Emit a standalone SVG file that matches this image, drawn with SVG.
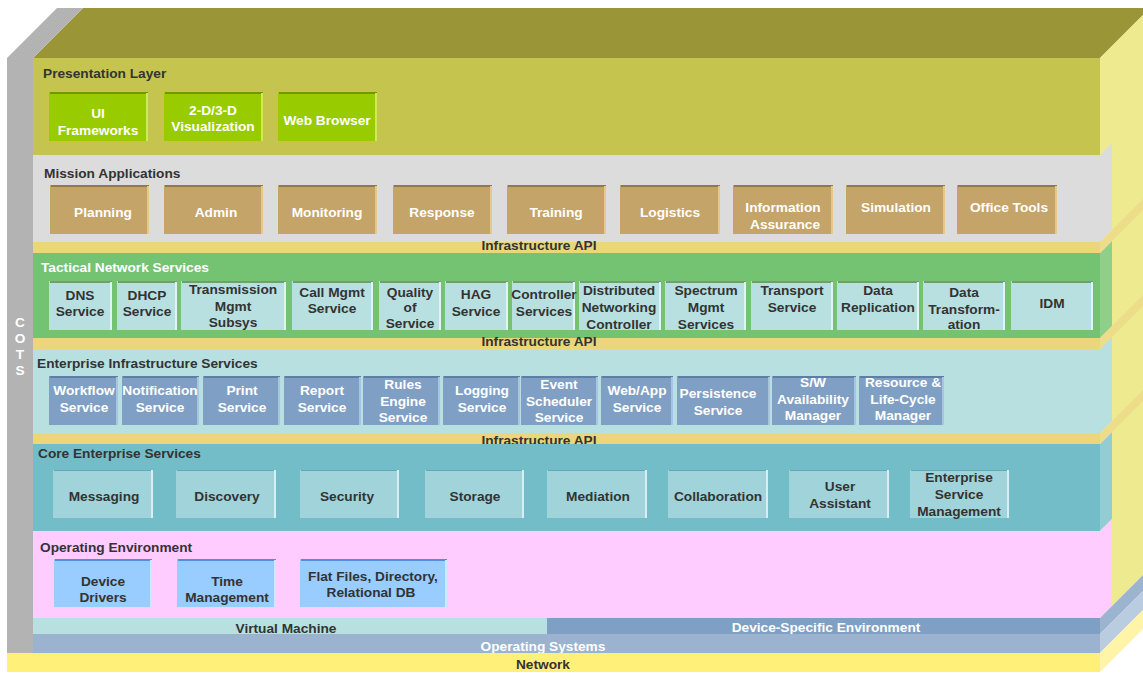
<svg xmlns="http://www.w3.org/2000/svg" width="1143" height="673" viewBox="0 0 1143 673">
<style>
.t{font-family:"Liberation Sans",Arial,Helvetica,sans-serif;font-weight:bold;font-size:13.7px}
.dk{fill:#333333}
.wh{fill:#ffffff}
.c{text-anchor:middle}
.g{fill:#99CC00}
.gt{stroke:#6E9A00;stroke-width:2}
.gr{stroke:#CCEB55;stroke-width:2}
.tn{fill:#C4A468}
.tnt{stroke:#8E7A4C;stroke-width:2}
.tnr{stroke:#E6C88A;stroke-width:2}
.cy{fill:#B8E0E0}
.cyt{stroke:#6E9E74;stroke-width:2}
.cyr{stroke:#E2F3F3;stroke-width:2}
.sb{fill:#7F9FC4}
.sbt{stroke:#5E7EA6;stroke-width:2}
.sbr{stroke:#A9C3E0;stroke-width:2}
.tl{fill:#A0D3DA}
.tlt{stroke:#5FAAB4;stroke-width:1}
.tlr{stroke:#D6EFF2;stroke-width:2}
.lb{fill:#99CCFF}
.lbt{stroke:#4F8FE0;stroke-width:2}
.lbr{stroke:#CFE6FF;stroke-width:2}
</style>

<!-- 3D frame -->
<g id="frame">
  <polygon points="33,58 83,8 1150,8 1100,58" fill="#9A9638"/>
  <polygon points="1100,58 1150,8 1150,568 1100,618" fill="#EDEA8F"/>
  <polygon points="1100,155 1112,143 1112,230 1100,242" fill="#DCDCDC"/>
  <polygon points="1100,253 1112,241 1112,326 1100,338" fill="#8FCF8A"/>
  <polygon points="1100,349 1112,337 1112,421 1100,433" fill="#B8E0E0"/>
  <polygon points="1100,444 1112,432 1112,519 1100,531" fill="#93CDD3"/>
  <polygon points="1100,531 1112,519 1112,606 1100,618" fill="#FFCCFF"/>
  <polygon points="1100,242 1150,192 1150,203 1100,253" fill="#EDDC8A"/>
  <polygon points="1100,338 1150,288 1150,299 1100,349" fill="#EDDC8A"/>
  <polygon points="1100,433 1150,383 1150,394 1100,444" fill="#EDDC8A"/>
  <polygon points="1100,618 1150,568 1150,584 1100,634" fill="#9CB4D0"/>
  <polygon points="1100,634 1150,584 1150,603 1100,653" fill="#B9CCE0"/>
  <polygon points="1100,653 1150,603 1150,622 1100,672" fill="#FFF4A8"/>
  <polygon points="7,58 57,8 83,8 33,58 33,653 7,653" fill="#B3B3B3"/>
  <text class="t wh c" x="20" y="327">C</text>
  <text class="t wh c" x="20" y="343">O</text>
  <text class="t wh c" x="20" y="359">T</text>
  <text class="t wh c" x="20" y="375">S</text>
</g>

<!-- Layers -->
<g id="layer-presentation">
  <rect x="33" y="58" width="1067" height="97" fill="#C4C44F"/>
  <text class="t dk" x="43" y="78">Presentation Layer</text>
</g>
<g id="layer-mission">
  <rect x="33" y="155" width="1067" height="87" fill="#DCDCDC"/>
  <text class="t dk" x="44" y="178">Mission Applications</text>
</g>
<g id="api-1">
  <rect x="33" y="242" width="1067" height="11" fill="#ECD67A"/>
  <text class="t dk c" x="539" y="250">Infrastructure API</text>
</g>
<g id="layer-tactical">
  <rect x="33" y="253" width="1067" height="85" fill="#73C373"/>
  <text class="t wh" x="41" y="272">Tactical Network Services</text>
</g>
<g id="api-2">
  <rect x="33" y="338" width="1067" height="11" fill="#ECD67A"/>
  <text class="t dk c" x="539" y="346">Infrastructure API</text>
</g>
<g id="layer-eis">
  <rect x="33" y="349" width="1067" height="84" fill="#B8E0E0"/>
  <text class="t dk" x="37" y="368">Enterprise Infrastructure Services</text>
</g>
<g id="api-3">
  <rect x="33" y="433" width="1067" height="11" fill="#ECD67A"/>
  <text class="t dk c" x="539" y="445">Infrastructure API</text>
</g>
<g id="layer-core">
  <rect x="33" y="444" width="1067" height="87" fill="#73BDC8"/>
  <text class="t dk" x="38" y="458">Core Enterprise Services</text>
</g>
<g id="layer-oe">
  <rect x="33" y="531" width="1067" height="87" fill="#FFCCFF"/>
  <text class="t dk" x="40" y="552">Operating Environment</text>
</g>
<g id="virtual-machine">
  <rect x="33" y="618" width="514" height="16" fill="#B8E0E0"/>
  <text class="t dk c" x="286" y="633">Virtual Machine</text>
</g>
<g id="device-specific">
  <rect x="547" y="618" width="553" height="16" fill="#7F9FC4"/>
  <text class="t wh c" x="826" y="632">Device-Specific Environment</text>
</g>
<g id="operating-systems">
  <rect x="33" y="634" width="1067" height="19" fill="#9BB3CF"/>
  <text class="t wh c" x="543" y="651">Operating Systems</text>
</g>
<g id="network">
  <rect x="7" y="653" width="1093" height="19" fill="#FFF07A"/>
  <text class="t dk c" x="543" y="669">Network</text>
</g>

<!-- Presentation boxes -->
<g id="ui-frameworks"><rect class="g" x="49" y="92" width="99" height="49"/><line class="gt" x1="50" y1="93" x2="148" y2="93"/><line class="gr" x1="147" y1="93" x2="147" y2="141"/><text class="t wh c" x="98" y="118">UI</text><text class="t wh c" x="98" y="135">Frameworks</text></g>
<g id="visualization"><rect class="g" x="164" y="92" width="99" height="49"/><line class="gt" x1="165" y1="93" x2="263" y2="93"/><line class="gr" x1="262" y1="93" x2="262" y2="141"/><text class="t wh c" x="213" y="115">2-D/3-D</text><text class="t wh c" x="213" y="131">Visualization</text></g>
<g id="web-browser"><rect class="g" x="278" y="92" width="99" height="49"/><line class="gt" x1="279" y1="93" x2="377" y2="93"/><line class="gr" x1="376" y1="93" x2="376" y2="141"/><text class="t wh c" x="327" y="125">Web Browser</text></g>

<!-- Mission boxes -->
<g id="planning"><rect class="tn" x="50" y="185" width="99" height="49"/><line class="tnt" x1="51" y1="186" x2="149" y2="186"/><line class="tnr" x1="148" y1="186" x2="148" y2="234"/><text class="t wh c" x="103" y="217">Planning</text></g>
<g id="admin"><rect class="tn" x="164" y="185" width="99" height="49"/><line class="tnt" x1="165" y1="186" x2="263" y2="186"/><line class="tnr" x1="262" y1="186" x2="262" y2="234"/><text class="t wh c" x="216" y="217">Admin</text></g>
<g id="monitoring"><rect class="tn" x="278" y="185" width="99" height="49"/><line class="tnt" x1="279" y1="186" x2="377" y2="186"/><line class="tnr" x1="376" y1="186" x2="376" y2="234"/><text class="t wh c" x="327" y="217">Monitoring</text></g>
<g id="response"><rect class="tn" x="393" y="185" width="99" height="49"/><line class="tnt" x1="394" y1="186" x2="492" y2="186"/><line class="tnr" x1="491" y1="186" x2="491" y2="234"/><text class="t wh c" x="442" y="217">Response</text></g>
<g id="training"><rect class="tn" x="507" y="185" width="99" height="49"/><line class="tnt" x1="508" y1="186" x2="606" y2="186"/><line class="tnr" x1="605" y1="186" x2="605" y2="234"/><text class="t wh c" x="556" y="217">Training</text></g>
<g id="logistics"><rect class="tn" x="620" y="185" width="100" height="49"/><line class="tnt" x1="621" y1="186" x2="720" y2="186"/><line class="tnr" x1="719" y1="186" x2="719" y2="234"/><text class="t wh c" x="670" y="217">Logistics</text></g>
<g id="information-assurance"><rect class="tn" x="733" y="185" width="100" height="49"/><line class="tnt" x1="734" y1="186" x2="833" y2="186"/><line class="tnr" x1="832" y1="186" x2="832" y2="234"/><text class="t wh c" x="783" y="212">Information</text><text class="t wh c" x="785" y="229">Assurance</text></g>
<g id="simulation"><rect class="tn" x="846" y="185" width="99" height="49"/><line class="tnt" x1="847" y1="186" x2="945" y2="186"/><line class="tnr" x1="944" y1="186" x2="944" y2="234"/><text class="t wh c" x="896" y="212">Simulation</text></g>
<g id="office-tools"><rect class="tn" x="957" y="185" width="100" height="49"/><line class="tnt" x1="958" y1="186" x2="1057" y2="186"/><line class="tnr" x1="1056" y1="186" x2="1056" y2="234"/><text class="t wh c" x="1009" y="212">Office Tools</text></g>

<!-- Tactical boxes -->
<g id="dns"><rect class="cy" x="49" y="281" width="63" height="49"/><line class="cyt" x1="50" y1="282" x2="112" y2="282"/><line class="cyr" x1="111" y1="282" x2="111" y2="330"/><text class="t dk c" x="80" y="300">DNS</text><text class="t dk c" x="80" y="316">Service</text></g>
<g id="dhcp"><rect class="cy" x="117" y="281" width="60" height="49"/><line class="cyt" x1="118" y1="282" x2="177" y2="282"/><line class="cyr" x1="176" y1="282" x2="176" y2="330"/><text class="t dk c" x="147" y="300">DHCP</text><text class="t dk c" x="147" y="316">Service</text></g>
<g id="transmission"><rect class="cy" x="181" y="281" width="105" height="49"/><line class="cyt" x1="182" y1="282" x2="286" y2="282"/><line class="cyr" x1="285" y1="282" x2="285" y2="330"/><text class="t dk c" x="233" y="294">Transmission</text><text class="t dk c" x="233" y="311">Mgmt</text><text class="t dk c" x="233" y="327">Subsys</text></g>
<g id="call-mgmt"><rect class="cy" x="292" y="281" width="81" height="49"/><line class="cyt" x1="293" y1="282" x2="373" y2="282"/><line class="cyr" x1="372" y1="282" x2="372" y2="330"/><text class="t dk c" x="332" y="297">Call Mgmt</text><text class="t dk c" x="332" y="313">Service</text></g>
<g id="qos"><rect class="cy" x="379" y="281" width="62" height="49"/><line class="cyt" x1="380" y1="282" x2="441" y2="282"/><line class="cyr" x1="440" y1="282" x2="440" y2="330"/><text class="t dk c" x="410" y="297">Quality</text><text class="t dk c" x="410" y="312">of</text><text class="t dk c" x="410" y="328">Service</text></g>
<g id="hag"><rect class="cy" x="445" y="281" width="63" height="49"/><line class="cyt" x1="446" y1="282" x2="508" y2="282"/><line class="cyr" x1="507" y1="282" x2="507" y2="330"/><text class="t dk c" x="476" y="299">HAG</text><text class="t dk c" x="476" y="316">Service</text></g>
<g id="controller"><rect class="cy" x="512" y="281" width="63" height="49"/><line class="cyt" x1="513" y1="282" x2="575" y2="282"/><line class="cyr" x1="574" y1="282" x2="574" y2="330"/><text class="t dk c" x="544" y="299">Controller</text><text class="t dk c" x="544" y="316">Services</text></g>
<g id="dnc"><rect class="cy" x="579" y="281" width="82" height="49"/><line class="cyt" x1="580" y1="282" x2="661" y2="282"/><line class="cyr" x1="660" y1="282" x2="660" y2="330"/><text class="t dk c" x="619" y="295">Distributed</text><text class="t dk c" x="619" y="312">Networking</text><text class="t dk c" x="619" y="329">Controller</text></g>
<g id="spectrum"><rect class="cy" x="665" y="281" width="81" height="49"/><line class="cyt" x1="666" y1="282" x2="746" y2="282"/><line class="cyr" x1="745" y1="282" x2="745" y2="330"/><text class="t dk c" x="706" y="295">Spectrum</text><text class="t dk c" x="706" y="312">Mgmt</text><text class="t dk c" x="706" y="329">Services</text></g>
<g id="transport"><rect class="cy" x="751" y="281" width="82" height="49"/><line class="cyt" x1="752" y1="282" x2="833" y2="282"/><line class="cyr" x1="832" y1="282" x2="832" y2="330"/><text class="t dk c" x="792" y="295">Transport</text><text class="t dk c" x="792" y="312">Service</text></g>
<g id="data-replication"><rect class="cy" x="837" y="281" width="82" height="49"/><line class="cyt" x1="838" y1="282" x2="919" y2="282"/><line class="cyr" x1="918" y1="282" x2="918" y2="330"/><text class="t dk c" x="878" y="295">Data</text><text class="t dk c" x="878" y="312">Replication</text></g>
<g id="data-transformation"><rect class="cy" x="923" y="281" width="82" height="49"/><line class="cyt" x1="924" y1="282" x2="1005" y2="282"/><line class="cyr" x1="1004" y1="282" x2="1004" y2="330"/><text class="t dk c" x="964" y="297">Data</text><text class="t dk c" x="964" y="314">Transform-</text><text class="t dk c" x="964" y="329">ation</text></g>
<g id="idm"><rect class="cy" x="1011" y="281" width="82" height="49"/><line class="cyt" x1="1012" y1="282" x2="1093" y2="282"/><line class="cyr" x1="1092" y1="282" x2="1092" y2="330"/><text class="t dk c" x="1052" y="308">IDM</text></g>

<!-- Enterprise Infrastructure boxes -->
<g id="workflow"><rect class="sb" x="49" y="376" width="69" height="49"/><line class="sbt" x1="50" y1="377" x2="118" y2="377"/><line class="sbr" x1="117" y1="377" x2="117" y2="425"/><text class="t wh c" x="84" y="395">Workflow</text><text class="t wh c" x="84" y="412">Service</text></g>
<g id="notification"><rect class="sb" x="122" y="376" width="77" height="49"/><line class="sbt" x1="123" y1="377" x2="199" y2="377"/><line class="sbr" x1="198" y1="377" x2="198" y2="425"/><text class="t wh c" x="160" y="395">Notification</text><text class="t wh c" x="160" y="412">Service</text></g>
<g id="print"><rect class="sb" x="203" y="376" width="77" height="49"/><line class="sbt" x1="204" y1="377" x2="280" y2="377"/><line class="sbr" x1="279" y1="377" x2="279" y2="425"/><text class="t wh c" x="242" y="395">Print</text><text class="t wh c" x="242" y="412">Service</text></g>
<g id="report"><rect class="sb" x="284" y="376" width="77" height="49"/><line class="sbt" x1="285" y1="377" x2="361" y2="377"/><line class="sbr" x1="360" y1="377" x2="360" y2="425"/><text class="t wh c" x="322" y="395">Report</text><text class="t wh c" x="322" y="412">Service</text></g>
<g id="rules-engine"><rect class="sb" x="363" y="376" width="77" height="49"/><line class="sbt" x1="364" y1="377" x2="440" y2="377"/><line class="sbr" x1="439" y1="377" x2="439" y2="425"/><text class="t wh c" x="403" y="389">Rules</text><text class="t wh c" x="403" y="406">Engine</text><text class="t wh c" x="403" y="422">Service</text></g>
<g id="logging"><rect class="sb" x="443" y="376" width="77" height="49"/><line class="sbt" x1="444" y1="377" x2="520" y2="377"/><line class="sbr" x1="519" y1="377" x2="519" y2="425"/><text class="t wh c" x="482" y="395">Logging</text><text class="t wh c" x="482" y="412">Service</text></g>
<g id="event-scheduler"><rect class="sb" x="521" y="376" width="77" height="49"/><line class="sbt" x1="522" y1="377" x2="598" y2="377"/><line class="sbr" x1="597" y1="377" x2="597" y2="425"/><text class="t wh c" x="559" y="389">Event</text><text class="t wh c" x="559" y="406">Scheduler</text><text class="t wh c" x="559" y="422">Service</text></g>
<g id="web-app"><rect class="sb" x="601" y="376" width="72" height="49"/><line class="sbt" x1="602" y1="377" x2="673" y2="377"/><line class="sbr" x1="672" y1="377" x2="672" y2="425"/><text class="t wh c" x="637" y="395">Web/App</text><text class="t wh c" x="637" y="412">Service</text></g>
<g id="persistence"><rect class="sb" x="677" y="376" width="93" height="49"/><line class="sbt" x1="678" y1="377" x2="770" y2="377"/><line class="sbr" x1="769" y1="377" x2="769" y2="425"/><text class="t wh c" x="718" y="398">Persistence</text><text class="t wh c" x="718" y="415">Service</text></g>
<g id="sw-availability"><rect class="sb" x="772" y="376" width="84" height="49"/><line class="sbt" x1="773" y1="377" x2="856" y2="377"/><line class="sbr" x1="855" y1="377" x2="855" y2="425"/><text class="t wh c" x="813" y="387">S/W</text><text class="t wh c" x="813" y="404">Availability</text><text class="t wh c" x="813" y="420">Manager</text></g>
<g id="resource-lifecycle"><rect class="sb" x="859" y="376" width="85" height="49"/><line class="sbt" x1="860" y1="377" x2="944" y2="377"/><line class="sbr" x1="943" y1="377" x2="943" y2="425"/><text class="t wh c" x="903" y="387">Resource &amp;</text><text class="t wh c" x="903" y="404">Life-Cycle</text><text class="t wh c" x="903" y="420">Manager</text></g>

<!-- Core boxes -->
<g id="messaging"><rect class="tl" x="53" y="470" width="100" height="48"/><line class="tlt" x1="54" y1="470.5" x2="153" y2="470.5"/><line class="tlr" x1="152" y1="470" x2="152" y2="518"/><text class="t dk c" x="104" y="501">Messaging</text></g>
<g id="discovery"><rect class="tl" x="176" y="470" width="100" height="48"/><line class="tlt" x1="177" y1="470.5" x2="276" y2="470.5"/><line class="tlr" x1="275" y1="470" x2="275" y2="518"/><text class="t dk c" x="227" y="501">Discovery</text></g>
<g id="security"><rect class="tl" x="300" y="470" width="99" height="48"/><line class="tlt" x1="301" y1="470.5" x2="399" y2="470.5"/><line class="tlr" x1="398" y1="470" x2="398" y2="518"/><text class="t dk c" x="347" y="501">Security</text></g>
<g id="storage"><rect class="tl" x="425" y="470" width="99" height="48"/><line class="tlt" x1="426" y1="470.5" x2="524" y2="470.5"/><line class="tlr" x1="523" y1="470" x2="523" y2="518"/><text class="t dk c" x="475" y="501">Storage</text></g>
<g id="mediation"><rect class="tl" x="547" y="470" width="100" height="48"/><line class="tlt" x1="548" y1="470.5" x2="647" y2="470.5"/><line class="tlr" x1="646" y1="470" x2="646" y2="518"/><text class="t dk c" x="598" y="501">Mediation</text></g>
<g id="collaboration"><rect class="tl" x="668" y="470" width="100" height="48"/><line class="tlt" x1="669" y1="470.5" x2="768" y2="470.5"/><line class="tlr" x1="767" y1="470" x2="767" y2="518"/><text class="t dk c" x="718" y="501">Collaboration</text></g>
<g id="user-assistant"><rect class="tl" x="789" y="470" width="100" height="48"/><line class="tlt" x1="790" y1="470.5" x2="889" y2="470.5"/><line class="tlr" x1="888" y1="470" x2="888" y2="518"/><text class="t dk c" x="840" y="491">User</text><text class="t dk c" x="840" y="508">Assistant</text></g>
<g id="esm"><rect class="tl" x="910" y="470" width="99" height="48"/><line class="tlt" x1="911" y1="470.5" x2="1009" y2="470.5"/><line class="tlr" x1="1008" y1="470" x2="1008" y2="518"/><text class="t dk c" x="959" y="482">Enterprise</text><text class="t dk c" x="959" y="499">Service</text><text class="t dk c" x="959" y="516">Management</text></g>

<!-- Operating environment boxes -->
<g id="device-drivers"><rect class="lb" x="54" y="559" width="98" height="48"/><line class="lbt" x1="55" y1="560" x2="152" y2="560"/><line class="lbr" x1="151" y1="560" x2="151" y2="607"/><text class="t dk c" x="103" y="586">Device</text><text class="t dk c" x="103" y="602">Drivers</text></g>
<g id="time-management"><rect class="lb" x="177" y="559" width="99" height="48"/><line class="lbt" x1="178" y1="560" x2="276" y2="560"/><line class="lbr" x1="275" y1="560" x2="275" y2="607"/><text class="t dk c" x="227" y="586">Time</text><text class="t dk c" x="227" y="602">Management</text></g>
<g id="flat-files"><rect class="lb" x="300" y="559" width="147" height="48"/><line class="lbt" x1="301" y1="560" x2="447" y2="560"/><line class="lbr" x1="446" y1="560" x2="446" y2="607"/><text class="t dk c" x="373" y="581">Flat Files, Directory,</text><text class="t dk c" x="371" y="597">Relational DB</text></g>

<g id="connectors"></g>
</svg>
